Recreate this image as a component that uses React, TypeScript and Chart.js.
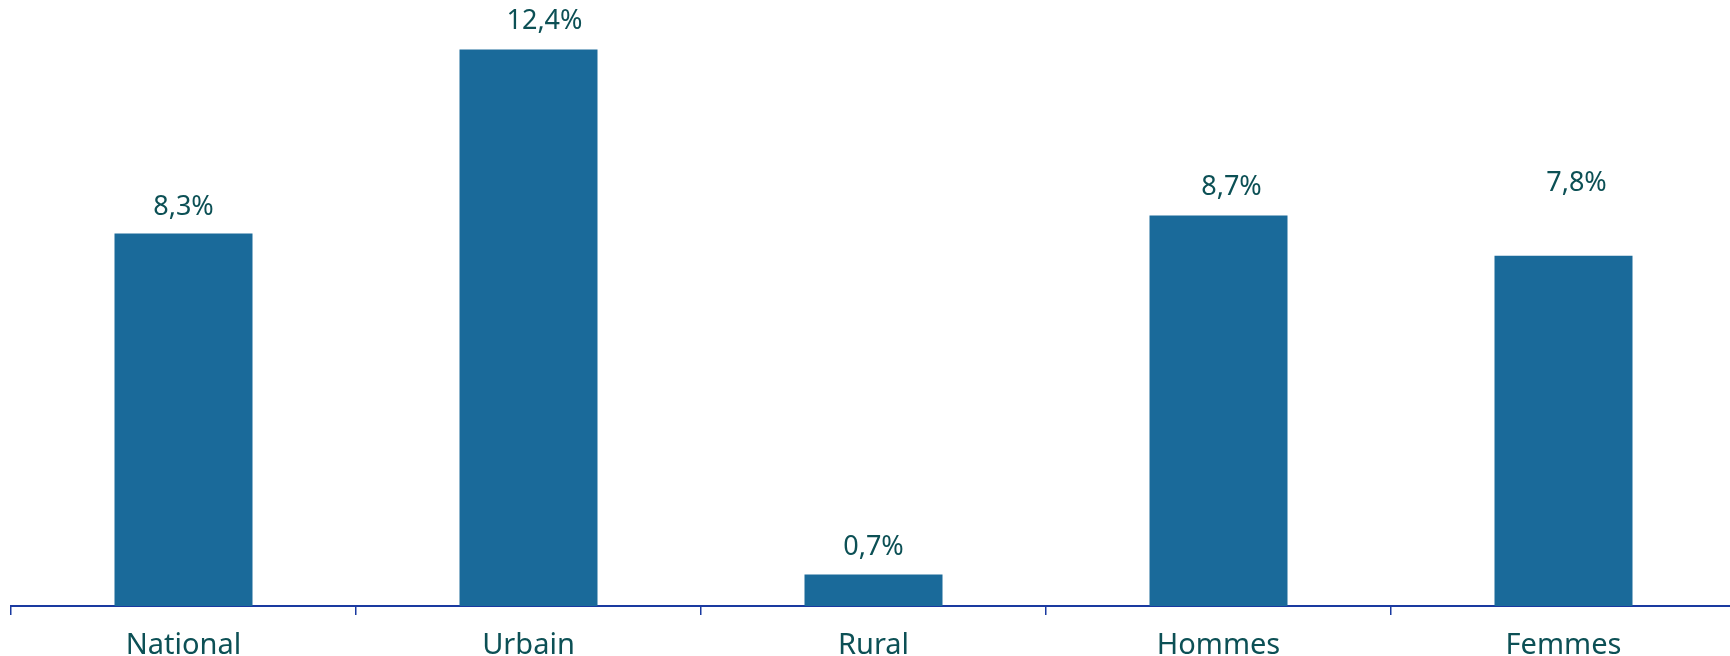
import React, { useEffect, useRef } from "react";
import { Chart, registerables } from "chart.js";

Chart.register(...registerables);

const categories = ["National", "Urbain", "Rural", "Hommes", "Femmes"];
const values = [8.3, 12.4, 0.7, 8.7, 7.8];
const valueLabels = ["8,3%", "12,4%", "0,7%", "8,7%", "7,8%"];
// small hand nudges of the value labels, as in the reference
const labelShiftX = [0, 16, 0, 13, 13];
const labelShiftY = [0, 2, 1, 2, 47];

const BAR = "#1a6a9a";
const TEXT = "#0c5055";
const AXIS = "#1a3aa0";
const FONT = "'Noto Sans', sans-serif";

const valueLabelPlugin = {
  id: "valueLabels",
  afterDatasetsDraw(chart: any) {
    const ctx = chart.ctx;
    const meta = chart.getDatasetMeta(0);
    ctx.save();
    ctx.fillStyle = TEXT;
    ctx.font = `400 27px ${FONT}`;
    ctx.textAlign = "center";
    ctx.textBaseline = "middle";
    meta.data.forEach((bar: any, i: number) => {
      ctx.fillText(valueLabels[i], bar.x + labelShiftX[i], bar.y - 26 - labelShiftY[i]);
    });
    ctx.restore();
  },
};

export default function App() {
  const ref = useRef<HTMLCanvasElement>(null);
  useEffect(() => {
    if (!ref.current) return;
    const chart = new Chart(ref.current, {
      type: "bar",
      data: {
        labels: categories,
        datasets: [
          {
            data: values,
            backgroundColor: BAR,
            barPercentage: 0.4,
            categoryPercentage: 1,
          },
        ],
      },
      options: {
        animation: false,
        responsive: true,
        maintainAspectRatio: false,
        layout: { padding: { left: 11, right: 4, top: 0, bottom: 0 } },
        plugins: { legend: { display: false }, tooltip: { enabled: false } },
        scales: {
          y: { display: false, min: 0, max: 13.5 },
          x: {
            afterFit: (scale: any) => {
              scale.height = 50;
            },
            grid: {
              display: true,
              drawOnChartArea: false,
              drawTicks: true,
              tickLength: 9,
              color: AXIS,
              lineWidth: 1.5,
              offset: true,
            },
            border: { display: true, color: AXIS, width: 2 },
            ticks: {
              color: TEXT,
              padding: 13,
              font: { family: FONT, size: 29, weight: "400" },
              maxRotation: 0,
            },
          },
        },
      },
      plugins: [valueLabelPlugin],
    });
    return () => chart.destroy();
  }, []);
  return (
    <div style={{ position: "fixed", left: 0, top: 0, width: 1740, height: 656, background: "#fff" }}>
      <canvas ref={ref} />
    </div>
  );
}
